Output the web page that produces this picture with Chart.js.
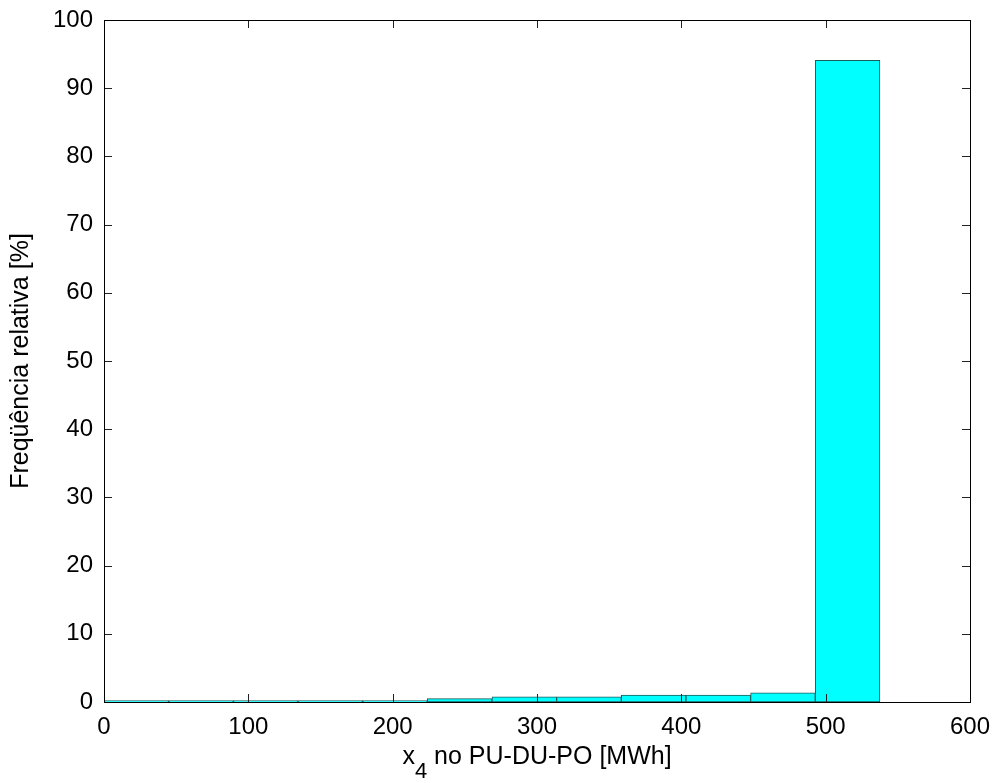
<!DOCTYPE html>
<html>
<head>
<meta charset="utf-8">
<script src="https://cdn.jsdelivr.net/npm/chart.js@4.4.0/dist/chart.umd.min.js"></script>
<style>
  body { margin: 0; background: #fff; }
  canvas { display: block; }
</style>
</head>
<body>
<canvas id="grafico" width="1000" height="783"></canvas>
<script>
// bordes de las clases del histograma (MWh)
const bordes = [0, 44.8, 89.6, 134.4, 179.2, 224, 268.8, 313.6, 358.4, 403.2, 448, 492.8, 537.6];
// frecuencia relativa (%) por clase
const frecuencia = [0.2, 0.2, 0.2, 0.2, 0.2, 0.5, 0.75, 0.75, 1.0, 1.0, 1.35, 94.1];
const ticksX = [0, 100, 200, 300, 400, 500, 600];
const ticksY = [0, 10, 20, 30, 40, 50, 60, 70, 80, 90, 100];

const fuente = 'Arial, "Liberation Sans", sans-serif';

const puntos = frecuencia.map((f, i) => ({ x: (bordes[i] + bordes[i + 1]) / 2, y: f }));

// marco, marcas hacia dentro y titulos, estilo MATLAB
const marco = {
  id: 'marco',
  afterDatasetsDraw(chart) {
    const ctx = chart.ctx;
    const a = chart.chartArea;
    const sx = chart.scales.x, sy = chart.scales.y;
    ctx.save();
    ctx.strokeStyle = '#222';
    ctx.lineWidth = 1;
    ctx.beginPath();
    ticksX.forEach(v => {
      const px = Math.round(sx.getPixelForValue(v)) + 0.5;
      ctx.moveTo(px, a.bottom); ctx.lineTo(px, a.bottom - 8);
      ctx.moveTo(px, a.top); ctx.lineTo(px, a.top + 8);
    });
    ticksY.forEach(v => {
      const py = Math.round(sy.getPixelForValue(v)) + 0.5;
      ctx.moveTo(a.left, py); ctx.lineTo(a.left + 8, py);
      ctx.moveTo(a.right, py); ctx.lineTo(a.right - 8, py);
    });
    ctx.stroke();
    ctx.strokeStyle = '#000';
    ctx.strokeRect(Math.round(a.left) + 0.5, Math.round(a.top) + 0.5,
      Math.round(a.right - a.left), Math.round(a.bottom - a.top));

    // titulo del eje x con subindice
    ctx.fillStyle = '#000';
    ctx.textBaseline = 'alphabetic';
    ctx.textAlign = 'left';
    const t1 = 'x', t2 = '4', t3 = ' no PU-DU-PO [MWh]';
    ctx.font = '25px ' + fuente;
    const w1 = ctx.measureText(t1).width, w3 = ctx.measureText(t3).width;
    ctx.font = '22px ' + fuente;
    const w2 = ctx.measureText(t2).width;
    const x0 = (a.left + a.right) / 2 - (w1 + w2 + w3) / 2;
    const base = 764;
    ctx.font = '25px ' + fuente;
    ctx.fillText(t1, x0, base);
    ctx.font = '22px ' + fuente;
    ctx.fillText(t2, x0 + w1, base + 14);
    ctx.font = '25px ' + fuente;
    ctx.fillText(t3, x0 + w1 + w2, base);

    // titulo del eje y
    ctx.translate(21, (a.top + a.bottom) / 2);
    ctx.rotate(-Math.PI / 2);
    ctx.textAlign = 'center';
    ctx.textBaseline = 'middle';
    ctx.font = '25px ' + fuente;
    ctx.fillText('Freqüência relativa [%]', 0, 0);
    ctx.restore();
  }
};

new Chart(document.getElementById('grafico'), {
  type: 'bar',
  data: {
    datasets: [{
      data: puntos,
      backgroundColor: '#00ffff',
      borderColor: '#1f5a5a',
      borderWidth: 1,
      borderSkipped: false,
      barPercentage: 1,
      categoryPercentage: 1
    }]
  },
  options: {
    responsive: false,
    animation: false,
    devicePixelRatio: 1,
    layout: { padding: { left: 0, right: 30, top: 20, bottom: 0 } },
    plugins: {
      legend: { display: false },
      tooltip: { enabled: false }
    },
    scales: {
      x: {
        type: 'linear',
        offset: false,
        min: 0, max: 600,
        afterBuildTicks: s => { s.ticks = ticksX.map(v => ({ value: v })); },
        afterFit: s => { s.height = 81; },
        grid: { display: false },
        border: { display: false },
        ticks: { color: '#000', font: { family: fuente, size: 24 }, padding: 3, maxRotation: 0 }
      },
      y: {
        min: 0, max: 100,
        afterBuildTicks: s => { s.ticks = ticksY.map(v => ({ value: v })); },
        afterFit: s => { s.width = 104; },
        grid: { display: false },
        border: { display: false },
        ticks: { color: '#000', font: { family: fuente, size: 24 }, padding: 3 }
      }
    }
  },
  plugins: [marco]
});
</script>
</body>
</html>
